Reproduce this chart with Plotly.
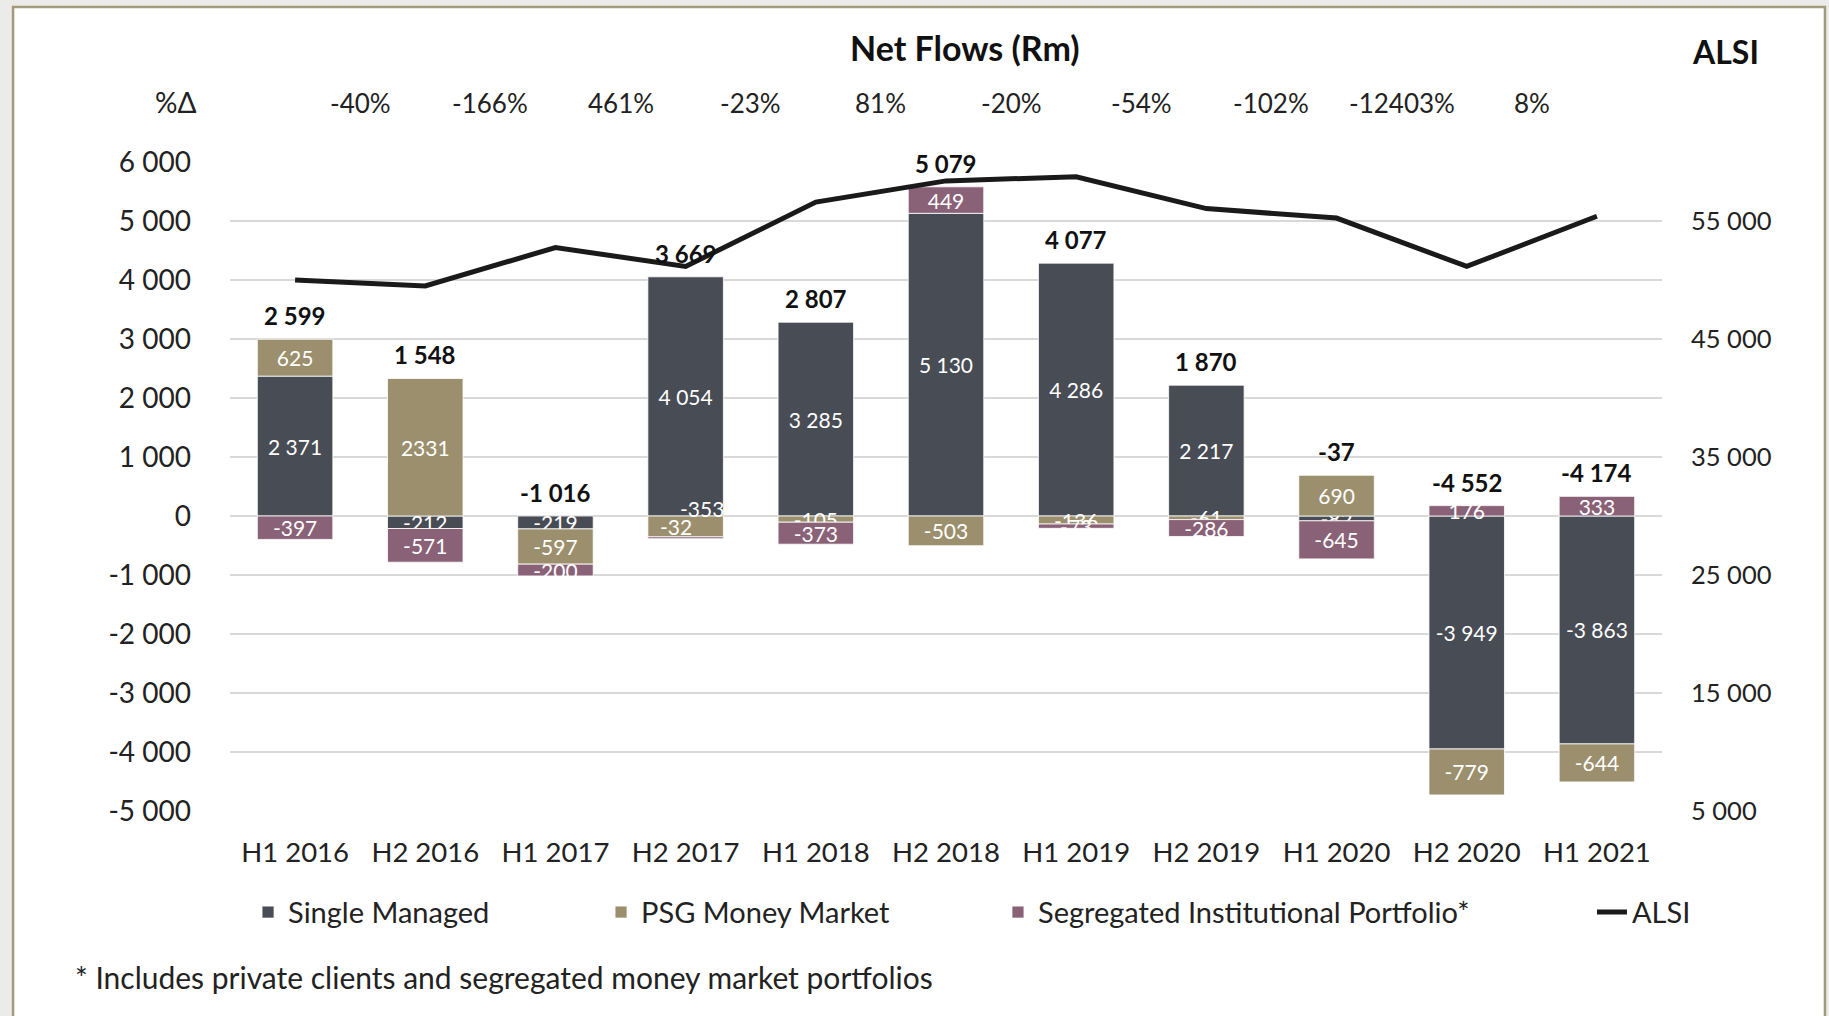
import plotly.graph_objects as go

# ---------------- data ----------------
CATEGORIES = ["H1 2016", "H2 2016", "H1 2017", "H2 2017", "H1 2018", "H2 2018",
              "H1 2019", "H2 2019", "H1 2020", "H2 2020", "H1 2021"]
SINGLE_MANAGED = [2371, -212, -219, 4054, 3285, 5130, 4286, 2217, -82, -3949, -3863]
PSG_MONEY_MARKET = [625, 2331, -597, -353, -105, -503, -136, -61, 690, -779, -644]
SEGREGATED = [-397, -571, -200, -32, -373, 449, -73, -286, -645, 176, 333]
TOTALS = [2599, 1548, -1016, 3669, 2807, 5079, 4077, 1870, -37, -4552, -4174]
ALSI = [50000, 49500, 52750, 51150, 56600, 58400, 58750, 56050, 55250, 51150, 55400]
PCT_CHANGE = ["-40%", "-166%", "461%", "-23%", "81%", "-20%", "-54%", "-102%",
              "-12403%", "8%"]
LEFT_TICKS = [6000, 5000, 4000, 3000, 2000, 1000, 0, -1000, -2000, -3000, -4000, -5000]
RIGHT_TICKS = [55000, 45000, 35000, 25000, 15000, 5000]

# Labels as printed on the chart (the H2 2017 negatives are placed separately)
SM_TEXT = ["2 371", "-212", "-219", "4 054", "3 285", "5 130", "4 286", "2 217", "-82", "-3 949", "-3 863"]
PSG_TEXT = ["625", "2331", "-597", "", "-105", "-503", "-136", "-61", "690", "-779", "-644"]
SEG_TEXT = ["-397", "-571", "-200", "", "-373", "449", "-73", "-286", "-645", "176", "333"]

FONT = "Lato"
C_SM = "#484c55"
C_PSG = "#9c8f6d"
C_SEG = "#8a6277"
TXT = "#222"


def fmt(v):
    s = f"{abs(v):,}".replace(",", " ")
    return ("-" if v < 0 else "") + s


fig = go.Figure()

bar_common = dict(textposition="inside", insidetextanchor="middle", textangle=0,
                  textfont=dict(family=FONT, size=21, color="white"),
                  marker_line=dict(color="rgba(255,255,255,0.8)", width=1),
                  hoverinfo="x+y")

fig.add_trace(go.Bar(x=CATEGORIES, y=SINGLE_MANAGED, name="Single Managed",
                     marker_color=C_SM, text=SM_TEXT, legend="legend", **bar_common))
fig.add_trace(go.Bar(x=CATEGORIES, y=PSG_MONEY_MARKET, name="PSG Money Market",
                     marker_color=C_PSG, text=PSG_TEXT, legend="legend2", **bar_common))
fig.add_trace(go.Bar(x=CATEGORIES, y=SEGREGATED, name="Segregated Institutional Portfolio*",
                     marker_color=C_SEG, text=SEG_TEXT, legend="legend3", **bar_common))
fig.add_trace(go.Scatter(x=CATEGORIES, y=ALSI, name="ALSI", yaxis="y2", mode="lines",
                         line=dict(color="#1a1a1a", width=5), legend="legend4"))

annotations = []
# total labels above the positive stack
for i, cat in enumerate(CATEGORIES):
    top = sum(v for v in (SINGLE_MANAGED[i], PSG_MONEY_MARKET[i], SEGREGATED[i]) if v > 0)
    annotations.append(dict(x=cat, y=top, xref="x", yref="y", text=f"<b>{fmt(TOTALS[i])}</b>",
                            showarrow=False, yanchor="bottom", yshift=7,
                            font=dict(family=FONT, size=24, color="#111")))

# H2 2017 negative labels (as placed in the original)
annotations.append(dict(x=3, y=PSG_MONEY_MARKET[3] / 2, xref="x", yref="y",
                        text=fmt(SEGREGATED[3]), showarrow=False, xshift=-10,
                        font=dict(family=FONT, size=21, color="white")))
annotations.append(dict(x=3, y=-PSG_MONEY_MARKET[3] * 0.35, xref="x", yref="y",
                        text=fmt(PSG_MONEY_MARKET[3]), showarrow=False, xshift=16,
                        font=dict(family=FONT, size=21, color="white")))

# % change labels between periods
for i, p in enumerate(PCT_CHANGE):
    annotations.append(dict(x=i + 0.5, y=1.119, xref="x", yref="paper", text=p,
                            showarrow=False, font=dict(family=FONT, size=26, color=TXT)))

annotations += [
    dict(x=-0.0223, y=1.122, xref="paper", yref="paper", text="%Δ", xanchor="right",
         showarrow=False, font=dict(family=FONT, size=28, color=TXT)),
    dict(x=0.513, y=1.211, xref="paper", yref="paper", text="<b>Net Flows (Rm)</b>",
         showarrow=False, font=dict(family=FONT, size=34, color="#111")),
    dict(x=1.069, y=1.203, xref="paper", yref="paper", text="<b>ALSI</b>",
         showarrow=False, font=dict(family=FONT, size=32, color="#111")),
    dict(x=-0.1096, y=-0.287, xref="paper", yref="paper",
         text="* Includes private clients and segregated money market portfolios",
         xanchor="left", showarrow=False, font=dict(family=FONT, size=30, color=TXT)),
]

legend_common = dict(orientation="h", y=-0.156, xanchor="left", yanchor="middle",
                     font=dict(family=FONT, size=29, color=TXT), bgcolor="rgba(0,0,0,0)")

fig.update_layout(
    width=1829, height=1016,
    margin=dict(l=230, r=167, t=162, b=205),
    paper_bgcolor="#ebebe9",
    plot_bgcolor="rgba(0,0,0,0)",
    barmode="relative",
    bargap=0.42,
    font=dict(family=FONT, size=26, color=TXT),
    uniformtext=dict(minsize=21, mode="show"),
    showlegend=True,
    legend=dict(x=0.0126, **legend_common),
    legend2=dict(x=0.2591, **legend_common),
    legend3=dict(x=0.5363, **legend_common),
    legend4=dict(x=0.9511, **legend_common),
    xaxis=dict(type="category", range=[-0.5, 10.5], showgrid=False, zeroline=False,
               showline=False, ticks="", ticklabelstandoff=22,
               tickfont=dict(family=FONT, size=27.5, color=TXT)),
    yaxis=dict(range=[-5000, 6000], tickvals=LEFT_TICKS, ticktext=[fmt(v) for v in LEFT_TICKS],
               showgrid=True, gridcolor="#d9d9d9", gridwidth=1.5, zeroline=False,
               showline=False, ticks="", ticklabelstandoff=38,
               tickfont=dict(family=FONT, size=28, color=TXT)),
    yaxis2=dict(range=[5000, 60000], overlaying="y", side="right",
                tickvals=RIGHT_TICKS, ticktext=[fmt(v) for v in RIGHT_TICKS],
                showgrid=False, zeroline=False, showline=False, ticks="",
                ticklabelstandoff=28, tickfont=dict(family=FONT, size=25.5, color=TXT)),
    annotations=annotations,
    shapes=[dict(type="rect", xref="paper", yref="paper", x0=-0.1515, x1=1.1138,
                 y0=-0.33, y1=1.2388, fillcolor="white",
                 line=dict(color="#a39a7c", width=2.5), layer="below")],
)

fig.write_html("out.html", config={"displayModeBar": False},
               post_script="document.body.style.margin='0';")
